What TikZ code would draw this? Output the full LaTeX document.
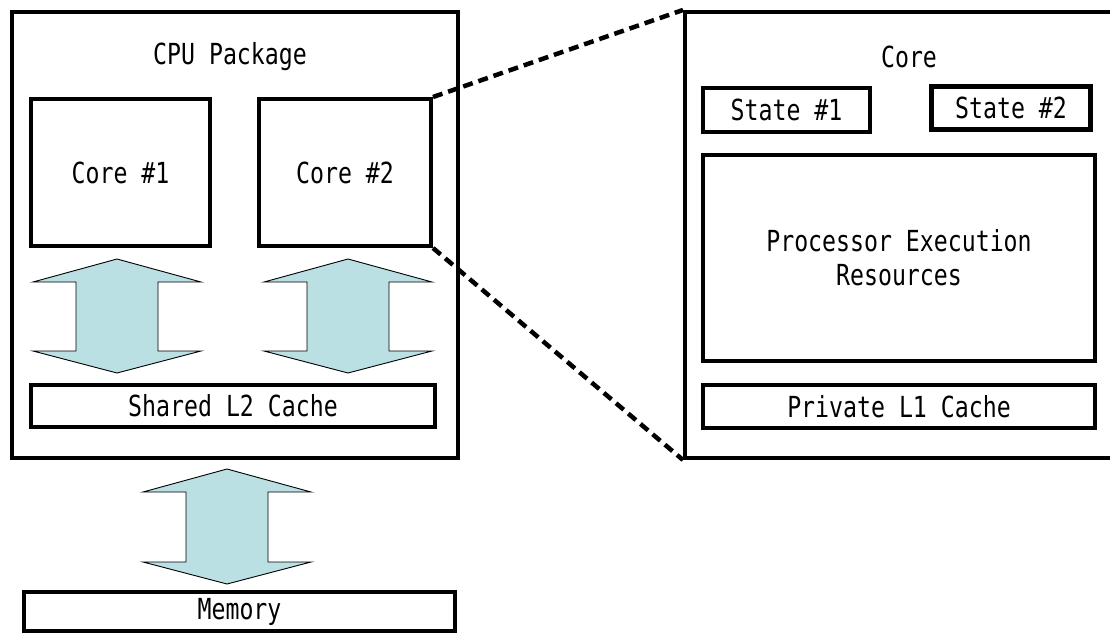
\documentclass[tikz,border=0pt]{standalone}
\usepackage{fontspec}
\setmonofont[FakeStretch=0.80]{DejaVu Sans Mono}
\definecolor{arrowfill}{RGB}{186,224,228}
\tikzset{
  box/.style={draw=black, line width=4pt, inner sep=0pt, fill=white,
    font=\fontsize{29}{34}\selectfont\ttfamily, align=center},
  lbl/.style={inner sep=0pt, font=\fontsize{29}{34}\selectfont\ttfamily},
  bigarrow/.style={draw=black, line width=0.9pt, fill=arrowfill, line join=miter},
  zoomline/.style={draw=black, line width=4.5pt, dash pattern=on 10pt off 6pt}
}
\newcommand\DblArrow[3]{%
  \path[bigarrow] (#1,#2) -- (#1+84,#2+23) -- (#1+41,#2+23) -- (#1+41,#3-22)
    -- (#1+84,#3-22) -- (#1,#3) -- (#1-84,#3-22) -- (#1-41,#3-22)
    -- (#1-41,#2+23) -- (#1-84,#2+23) -- cycle;}
\begin{document}
\begin{tikzpicture}[x=1pt,y=-1pt]
\useasboundingbox (0,0) rectangle (1110,636);
\clip (0,0) rectangle (1110,636);
% CPU package
\node[box, minimum width=446pt, minimum height=446pt] (cpu) at (235,235) {};
\node[lbl] (cpulbl) at (230,57) {CPU Package};
\node[box, minimum width=179pt, minimum height=147pt] (core1) at (120.5,172.5) {Core \#1};
\node[box, minimum width=172pt, minimum height=147pt] (core2) at (345,172.5) {Core \#2};
\node[box, minimum width=404pt, minimum height=42pt] (l2) at (233,406) {Shared L2 Cache};
% arrows
\DblArrow{117}{259}{373}
\DblArrow{348}{259}{373}
\DblArrow{227}{469}{584}
% memory
\node[box, minimum width=431pt, minimum height=39pt] (mem) at (239.5,611.5) {Memory};
% zoomed core
\node[box, minimum width=430pt, minimum height=446pt] (big) at (900,235) {};
\node[lbl] (corelbl) at (909,57) {Core};
\node[box, minimum width=167pt, minimum height=44pt] (st1) at (786.5,110) {State \#1};
\node[box, line width=5pt, minimum width=159pt, minimum height=43pt] (st2) at (1011,108) {State \#2};
\node[box, minimum width=392pt, minimum height=206pt] (per) at (899,258) {Processor Execution\\Resources};
\node[box, minimum width=392pt, minimum height=43pt] (l1) at (899,406.5) {Private L1 Cache};
% zoom lines
\draw[zoomline] (core2.north east) -- (big.north west);
\draw[zoomline] (core2.south east) -- (big.south west);
\end{tikzpicture}
\end{document}
